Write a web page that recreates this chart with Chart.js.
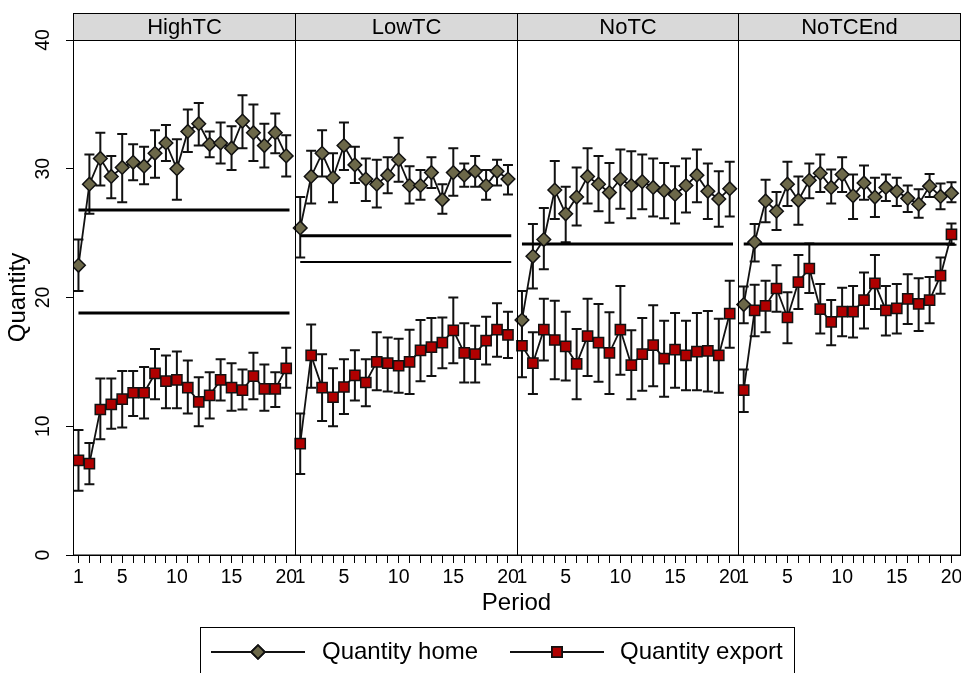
<!DOCTYPE html>
<html>
<head>
<title>Quantity by period</title>
<style>
  body { margin: 0; background: #fff; }
  #wrap { width: 961px; height: 673px; }
</style>
</head>
<body>
<div id="wrap"><canvas id="qtyChart" width="961" height="673"></canvas></div>

<script src="https://cdn.jsdelivr.net/npm/chart.js"></script>
<script>
const panels = ['HighTC', 'LowTC', 'NoTC', 'NoTCEnd'];
const periods = [1, 2, 3, 4, 5, 6, 7, 8, 9, 10, 11, 12, 13, 14, 15, 16, 17, 18, 19, 20];
const xTickLabels = [1, 5, 10, 15, 20];
const yTicks = [0, 10, 20, 30, 40];

// quantity home: mean, upper and lower ends of the bars
const homeHighTC   = [22.5, 28.8, 30.8, 29.4, 30.1, 30.5, 30.2, 31.2, 32.0, 30.0, 32.9, 33.5, 31.9, 32.0, 31.6, 33.7, 32.8, 31.8, 32.8, 31.0];
const homeHighTCHi = [24.5, 31.1, 32.8, 31.0, 32.7, 31.9, 31.7, 33.0, 33.4, 32.3, 34.6, 35.1, 32.9, 33.6, 33.3, 35.7, 35.0, 33.5, 34.3, 32.6];
const homeHighTCLo = [20.5, 26.5, 28.7, 27.7, 27.4, 29.1, 28.8, 29.3, 30.6, 27.6, 31.3, 31.8, 30.9, 30.4, 29.9, 31.6, 30.6, 30.1, 31.2, 29.4];

const homeLowTC   = [25.4, 29.4, 31.2, 29.3, 31.8, 30.3, 29.2, 28.8, 29.5, 30.7, 28.7, 28.7, 29.7, 27.6, 29.7, 29.5, 29.8, 28.7, 29.8, 29.2];
const homeLowTCHi = [27.8, 31.4, 33.0, 31.2, 33.6, 31.7, 30.8, 30.7, 30.9, 32.4, 30.2, 29.9, 30.9, 28.8, 31.6, 30.4, 31.0, 29.9, 30.7, 30.3];
const homeLowTCLo = [23.1, 27.3, 29.4, 27.4, 29.9, 28.9, 27.5, 27.0, 28.1, 29.0, 27.3, 27.6, 28.5, 26.5, 27.9, 28.6, 28.6, 27.6, 28.7, 28.0];

const homeNoTC   = [18.25, 23.2, 24.5, 28.35, 26.5, 27.8, 29.4, 28.8, 28.15, 29.2, 28.7, 29.0, 28.55, 28.3, 28.0, 28.7, 29.5, 28.25, 27.65, 28.45];
const homeNoTCHi = [20.5, 25.7, 26.95, 30.6, 28.6, 30.1, 31.6, 31.0, 30.45, 31.5, 31.35, 31.1, 30.8, 30.45, 30.2, 30.8, 31.5, 30.4, 29.8, 30.55];
const homeNoTCLo = [16.0, 20.7, 22.2, 26.1, 24.3, 25.6, 27.3, 26.7, 25.8, 26.9, 26.15, 26.85, 26.3, 26.15, 25.75, 26.6, 27.4, 26.1, 25.5, 26.3];

const homeNoTCEnd   = [19.45, 24.3, 27.5, 26.7, 28.8, 27.55, 29.1, 29.65, 28.55, 29.55, 27.9, 28.9, 27.8, 28.55, 28.25, 27.7, 27.25, 28.65, 27.85, 28.1];
const homeNoTCEndHi = [20.85, 25.7, 29.15, 28.2, 30.55, 29.4, 30.4, 31.1, 29.95, 30.9, 29.55, 30.25, 29.3, 29.55, 29.3, 28.7, 28.4, 29.6, 28.85, 28.95];
const homeNoTCEndLo = [18.0, 22.8, 25.85, 25.25, 27.1, 25.65, 27.7, 28.2, 27.3, 28.2, 26.1, 27.6, 26.25, 27.5, 27.1, 26.65, 26.2, 27.8, 26.85, 27.4];

// quantity export
const expHighTC   = [7.35, 7.1, 11.3, 11.7, 12.1, 12.6, 12.6, 14.1, 13.5, 13.6, 13.0, 11.9, 12.4, 13.6, 13.0, 12.8, 13.9, 12.9, 12.9, 14.5];
const expHighTCHi = [9.7, 8.7, 13.7, 13.7, 14.3, 14.3, 14.6, 16.0, 15.5, 15.8, 15.1, 13.8, 14.2, 15.2, 14.9, 14.4, 15.7, 14.8, 14.2, 16.1];
const expHighTCLo = [5.0, 5.5, 9.0, 9.8, 9.9, 10.8, 10.6, 12.1, 11.4, 11.4, 11.0, 10.0, 10.6, 12.0, 11.2, 11.3, 12.1, 11.2, 11.5, 13.0];

const expLowTC   = [8.65, 15.5, 13.0, 12.25, 13.05, 13.95, 13.4, 15.0, 14.9, 14.7, 15.0, 15.9, 16.15, 16.5, 17.45, 15.7, 15.6, 16.65, 17.5, 17.1];
const expLowTCHi = [11.0, 17.9, 15.6, 14.5, 15.2, 15.9, 15.2, 17.3, 16.9, 16.8, 17.5, 18.25, 18.4, 18.45, 20.0, 18.0, 17.8, 18.5, 19.55, 18.9];
const expLowTCLo = [6.3, 13.0, 10.4, 10.0, 10.95, 12.0, 11.55, 12.8, 12.7, 12.6, 12.5, 13.5, 13.9, 14.5, 14.9, 13.4, 13.4, 14.8, 15.4, 15.3];

const expNoTC   = [16.25, 14.9, 17.5, 16.7, 16.2, 14.85, 17.0, 16.5, 15.7, 17.5, 14.75, 15.6, 16.3, 15.25, 15.95, 15.5, 15.8, 15.85, 15.5, 18.75];
const expNoTCHi = [18.5, 17.3, 19.9, 19.75, 18.9, 17.55, 19.9, 19.5, 18.85, 20.9, 17.45, 18.4, 19.4, 18.2, 18.8, 18.2, 18.8, 18.95, 18.35, 21.3];
const expNoTCLo = [13.8, 12.5, 15.1, 13.65, 13.55, 12.1, 13.9, 13.45, 12.5, 14.0, 12.1, 12.75, 13.1, 12.3, 13.0, 12.8, 12.8, 12.7, 12.6, 16.1];

const expNoTCEnd   = [12.8, 19.0, 19.35, 20.7, 18.45, 21.2, 22.25, 19.1, 18.1, 18.9, 18.9, 19.8, 21.1, 19.0, 19.15, 19.9, 19.5, 19.8, 21.7, 24.9];
const expNoTCEndHi = [14.4, 21.0, 21.3, 22.5, 20.4, 23.3, 24.2, 21.05, 19.8, 20.75, 20.9, 21.95, 23.3, 20.9, 21.05, 21.8, 21.5, 21.6, 23.1, 25.75];
const expNoTCEndLo = [11.1, 17.0, 17.3, 18.9, 16.45, 19.1, 20.35, 17.2, 16.3, 17.0, 16.9, 17.6, 19.1, 17.05, 17.2, 17.95, 17.4, 18.0, 20.3, 24.1];

// horizontal benchmark lines per panel
const benchA = [26.8, 24.8, 24.15, 24.15];
const benchB = [18.8, 22.75, null, null];
const benchFrom = 1, benchTo = 20.3;

const home = [homeHighTC, homeLowTC, homeNoTC, homeNoTCEnd];
const homeHi = [homeHighTCHi, homeLowTCHi, homeNoTCHi, homeNoTCEndHi];
const homeLo = [homeHighTCLo, homeLowTCLo, homeNoTCLo, homeNoTCEndLo];
const exp = [expHighTC, expLowTC, expNoTC, expNoTCEnd];
const expHi = [expHighTCHi, expLowTCHi, expNoTCHi, expNoTCEndHi];
const expLo = [expHighTCLo, expLowTCLo, expNoTCLo, expNoTCEndLo];

// each panel covers periods 0.5 .. 20.78 on one shared linear axis
const W = 20.28, OFF = 0.5;
const px = (k, p) => k * W + p - OFF;

const FONT = "'Liberation Sans', Arial, sans-serif";
const HOME_COL = '#6c6849', EXP_COL = '#b00000';

const datasets = [];
panels.forEach((name, k) => {
    datasets.push({
        label: 'Quantity home', data: periods.map((p, i) => ({x: px(k, p), y: home[k][i]})),
        borderColor: '#111', borderWidth: 1.8, backgroundColor: HOME_COL,
        pointStyle: 'rectRot', pointRadius: 6.8, pointBorderColor: '#111', pointBorderWidth: 1.5,
        pointBackgroundColor: HOME_COL, tension: 0
    });
});
panels.forEach((name, k) => {
    datasets.push({
        label: 'Quantity export', data: periods.map((p, i) => ({x: px(k, p), y: exp[k][i]})),
        borderColor: '#111', borderWidth: 1.8, backgroundColor: EXP_COL,
        pointStyle: 'rect', pointRadius: 7.2, pointBorderColor: '#111', pointBorderWidth: 1.5,
        pointBackgroundColor: EXP_COL, tension: 0
    });
});
panels.forEach((name, k) => {
    [[benchA, 3], [benchB, k === 0 ? 3 : 2]].forEach(([arr, w]) => {
        if (arr[k] == null) return;
        datasets.push({
            label: 'bench', data: [{x: px(k, benchFrom), y: arr[k]}, {x: px(k, benchTo), y: arr[k]}],
            borderColor: '#000', borderWidth: w, pointRadius: 0, borderCapStyle: 'butt'
        });
    });
});

const tickVals = [];
panels.forEach((n, k) => periods.forEach(p => tickVals.push(px(k, p))));

const panelPlugin = {
    id: 'panelPlugin',
    beforeDatasetsDraw(chart) {
        const ctx = chart.ctx, xs = chart.scales.x, ys = chart.scales.y;
        ctx.save();
        ctx.strokeStyle = '#111';
        ctx.lineWidth = 2;
        const bars = (k, hi, lo) => {
            periods.forEach((p, i) => {
                const x = xs.getPixelForValue(px(k, p));
                const y1 = ys.getPixelForValue(hi[k][i]), y2 = ys.getPixelForValue(lo[k][i]);
                ctx.beginPath();
                ctx.moveTo(x, y1); ctx.lineTo(x, y2);
                ctx.moveTo(x - 5, y1); ctx.lineTo(x + 5, y1);
                ctx.moveTo(x - 5, y2); ctx.lineTo(x + 5, y2);
                ctx.stroke();
            });
        };
        panels.forEach((n, k) => { bars(k, homeHi, homeLo); bars(k, expHi, expLo); });
        ctx.restore();
    },
    afterDraw(chart) {
        const ctx = chart.ctx, xs = chart.scales.x, ys = chart.scales.y, a = chart.chartArea;
        ctx.save();
        // strips and panel frames
        const stripTop = 13;
        panels.forEach((name, k) => {
            const l = Math.round(xs.getPixelForValue(k * W)) + 0.5;
            const r = Math.min(Math.round(xs.getPixelForValue((k + 1) * W)) + 0.5, chart.width - 0.5);
            ctx.fillStyle = '#d9d9d9';
            ctx.fillRect(l, stripTop, r - l, a.top - stripTop);
            ctx.strokeStyle = '#000';
            ctx.lineWidth = 1;
            ctx.strokeRect(l, stripTop + 0.5, r - l, a.bottom - stripTop - 0.5);
            ctx.beginPath(); ctx.moveTo(l, a.top + 0.5); ctx.lineTo(r, a.top + 0.5); ctx.stroke();
            ctx.fillStyle = '#000';
            ctx.font = '22px ' + FONT;
            ctx.textAlign = 'center';
            ctx.textBaseline = 'middle';
            ctx.fillText(name, (l + r) / 2, (stripTop + a.top) / 2 + 1);
        });
        // rotated y tick labels
        ctx.font = '19.5px ' + FONT;
        ctx.fillStyle = '#000';
        yTicks.forEach(v => {
            ctx.save();
            ctx.translate(44, ys.getPixelForValue(v));
            ctx.rotate(-Math.PI / 2);
            ctx.textAlign = 'center';
            ctx.textBaseline = 'middle';
            ctx.fillText(String(v), 0, 0);
            ctx.restore();
        });
        // legend
        const ly = 652;
        ctx.strokeStyle = '#000';
        ctx.lineWidth = 1;
        ctx.strokeRect(200.5, 627.5, 594, 80);
        const entry = (x0, x1, style, col, r, text, tx) => {
            ctx.strokeStyle = '#111';
            ctx.lineWidth = 1.8;
            ctx.beginPath(); ctx.moveTo(x0, ly); ctx.lineTo(x1, ly); ctx.stroke();
            Chart.helpers.drawPoint(ctx, {pointStyle: style, radius: r, borderWidth: 1.5},
                (x0 + x1) / 2, ly);
            ctx.fillStyle = col;
            ctx.fill();
            ctx.stroke();
            ctx.fillStyle = '#000';
            ctx.font = '24px ' + FONT;
            ctx.textAlign = 'left';
            ctx.textBaseline = 'middle';
            ctx.fillText(text, tx, ly);
        };
        entry(211, 305, 'rectRot', HOME_COL, 6.8, 'Quantity home', 322);
        entry(510, 604, 'rect', EXP_COL, 7.2, 'Quantity export', 620);
        ctx.restore();
    }
};

const ctx = document.getElementById('qtyChart').getContext('2d');
const chart = new Chart(ctx, {
    type: 'line',
    data: { datasets: datasets },
    options: {
        responsive: false,
        animation: false,
        devicePixelRatio: 1,
        layout: { autoPadding: false, padding: { top: 40, right: 1, left: 0, bottom: 0 } },
        plugins: { legend: { display: false }, tooltip: { enabled: false } },
        scales: {
            x: {
                type: 'linear', min: 0, max: 4 * W,
                afterBuildTicks: s => { s.ticks = tickVals.map(v => ({value: v})); },
                afterFit: s => { s.height = 118; s.paddingLeft = 0; s.paddingRight = 0; },
                grid: { drawOnChartArea: false, tickLength: 8, color: '#000' },
                border: { display: true, color: '#000', width: 1 },
                ticks: {
                    autoSkip: false, maxRotation: 0, minRotation: 0, padding: 3, color: '#000',
                    font: { family: FONT, size: 19.5 },
                    callback: v => {
                        const k = Math.floor((v + 1e-6) / W);
                        const p = Math.round(v - k * W + OFF);
                        return xTickLabels.includes(p) ? String(p) : '';
                    }
                },
                title: { display: true, text: 'Period', color: '#000', font: { family: FONT, size: 24 }, padding: { top: 0, bottom: 55.6 } }
            },
            y: {
                min: 0, max: 40,
                afterBuildTicks: s => { s.ticks = yTicks.map(v => ({value: v})); },
                afterFit: s => { s.width = 73; s.paddingTop = 0; s.paddingBottom = 0; },
                grid: { drawOnChartArea: false, tickLength: 7, color: '#000' },
                border: { display: true, color: '#000', width: 1 },
                ticks: { display: false },
                title: { display: true, text: 'Quantity', color: '#000', font: { family: FONT, size: 24 }, padding: { top: 3.6, bottom: 0 } }
            }
        }
    },
    plugins: [panelPlugin]
});
</script>
</body>
</html>
